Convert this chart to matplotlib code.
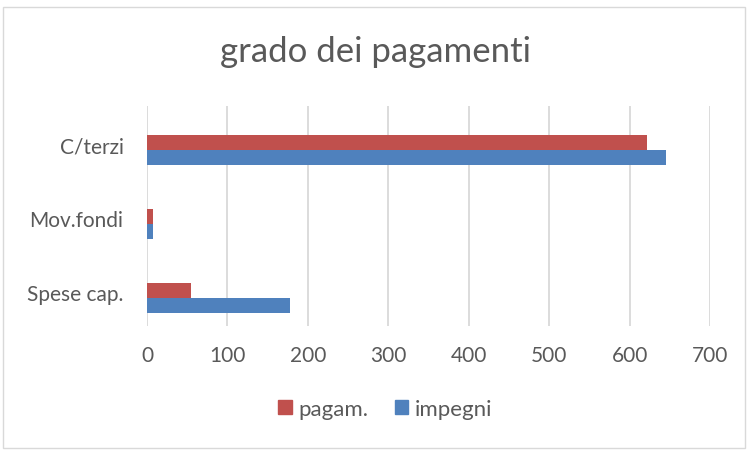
import matplotlib
matplotlib.use("Agg")
import matplotlib.pyplot as plt
from matplotlib.patches import Rectangle, Patch
from matplotlib.transforms import ScaledTranslation
import numpy as np

CATEGORIES = ["Spese cap.", "Mov.fondi", "C/terzi"]
PAGAM = [55, 7, 622]
IMPEGNI = [178, 8, 645]
X_TICKS = [0, 100, 200, 300, 400, 500, 600, 700]

RED = "#C0504D"
BLUE = "#4F81BD"
TEXT = "#595959"

plt.rcParams["font.family"] = ["Lato", "DejaVu Sans"]

fig = plt.figure(figsize=(7.51, 4.52), dpi=100)
# plot area: x 147..710 px, y 107..327 px
ax = fig.add_axes([147 / 751, 1 - 327 / 452, 563 / 751, 220 / 452])

y = np.arange(len(CATEGORIES))
h = 0.203
ax.barh(y + h / 2, PAGAM, height=h, color=RED, label="pagam.")
ax.barh(y - h / 2, IMPEGNI, height=h, color=BLUE, label="impegni")

ax.set_xlim(0, 700)
ax.set_ylim(-0.38, 2.595)
ax.set_xticks(X_TICKS)
ax.set_yticks(y)
ax.set_yticklabels(CATEGORIES)
ax.tick_params(axis="both", length=0, labelsize=15, colors=TEXT)
ax.tick_params(axis="x", pad=14)
ax.tick_params(axis="y", pad=17)
ax.grid(axis="x", color="#d9d9d9", linewidth=1.3)
ax.set_axisbelow(True)
for s in ax.spines.values():
    s.set_visible(False)

# category labels sit a little above the bar pair, as in the original
shift = ScaledTranslation(0, 6 / 100, fig.dpi_scale_trans)
for lbl in ax.get_yticklabels():
    lbl.set_transform(lbl.get_transform() + shift)

fig.text(0.5, 0.885, "grado dei pagamenti", ha="center", va="center",
         fontsize=25, color=TEXT)

handles = [Patch(color=RED, label="pagam."), Patch(color=BLUE, label="impegni")]
fig.legend(handles=handles, loc="center", bbox_to_anchor=(0.513, 0.093),
           ncol=2, frameon=False, fontsize=16, labelcolor=TEXT,
           handlelength=0.6, handleheight=0.6, handletextpad=0.3,
           columnspacing=1.2)

fig.patches.append(Rectangle((3 / 751, 1 - 449 / 452), 742 / 751, 441 / 452,
                             transform=fig.transFigure, fill=False,
                             edgecolor="#d9d9d9", linewidth=1))

fig.savefig("out.png", dpi=100)
